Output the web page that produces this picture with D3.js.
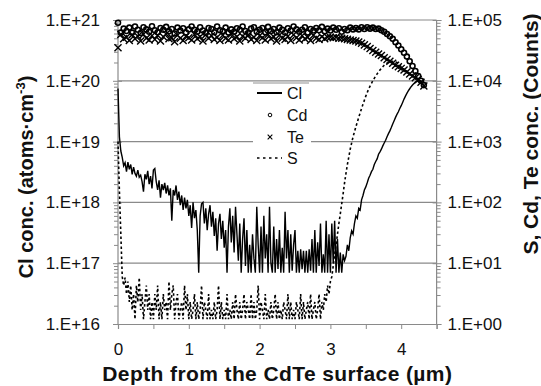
<!DOCTYPE html>
<html><head><meta charset="utf-8">
<script src="https://cdn.jsdelivr.net/npm/d3@7"></script>
<style>body{margin:0;background:#fff;} svg{display:block;}</style>
</head><body>
<svg id="c" width="541" height="386"></svg>
<script>
// ---- data ----
const clStep = 0.02;   // depth spacing of the Cl profile (µm)
const clValues = [
7.5e19,1.2e19,7e18,5.5e18,4e18,4.5e18,3.2e18,4.6e18,3.5e18,4.2e18,
2.9e18,3.8e18,3.0e18,2.7e18,3.4e18,2.6e18,2.8e18,2.2e18,1.5e18,2.9e18,
2.4e18,3.3e18,2.0e18,2.7e18,1.7e18,3.4e18,3.6e18,2.2e18,1.6e18,2.3e18,
1.2e18,2.0e18,1.6e18,2.1e18,1.4e18,1.9e18,1.3e18,1.7e18,5e17,1.6e18,
1.3e18,1.9e18,1.1e18,1.5e18,9e17,1.3e18,7.5e17,1.2e18,8e17,1.1e18,
6e17,9e17,3.8e17,1.0e18,5.5e17,7.5e17,3.5e17,7e16,6e17,9.5e17,
1.0e18,4.5e17,8e17,3.5e17,6.5e17,9e17,4e17,7e17,2.8e17,5.5e17,
1.6e17,4.5e17,6.5e17,2.5e17,5e17,1.8e17,3.5e17,7e16,4e17,8e17,
2.2e17,6e17,1.5e17,8.5e17,3e17,1.1e17,4.5e17,7e16,2.5e17,5.5e17,
9e16,3.5e17,7e16,2e17,7e16,3e17,1.2e17,7e16,8.5e17,2e17,
7e16,4e17,7e16,6e17,1.2e17,3e17,7e16,8.5e17,1e17,7e16,
4e17,7e16,2.5e17,8e16,3.5e17,7e16,1.8e17,7e16,7e17,1.2e17,
3.5e17,7e16,3e17,7.5e16,2e17,3.5e17,7e16,1.6e17,7e16,1.7e17,
8e16,1.6e17,7e16,1.6e17,7e16,1.7e17,7.5e16,2.5e17,7e16,3.5e17,
7e16,2.2e17,9e16,4.5e17,7e16,1.4e17,7e16,5e17,7e16,3e17,
7e16,4.5e17,1e17,5e17,7e16,2.5e17,7e16,1.5e17,7e16,1.4e17,
1.1e17,1.3e17,2.0e17,1.6e17,2.6e17,3.4e17,3.0e17,4.5e17,6e17,5.5e17,
8e17,7.5e17,1.1e18,1.3e18,1.6e18,1.8e18,2.1e18,2.5e18,2.8e18,3.2e18,
3.5e18,4.2e18,4.7e18,5.2e18,6.2e18,6.8e18,7.5e18,8.5e18,9.5e18,1.05e19,
1.2e19,1.35e19,1.5e19,1.7e19,1.95e19,2.2e19,2.5e19,2.8e19,3.1e19,3.5e19,
3.9e19,4.4e19,5.0e19,5.6e19,6.2e19,6.8e19,7.4e19,8.0e19,8.5e19,9.0e19,
9.4e19,9.7e19,1.0e20,1.02e20,1.0e20,9.5e19
];
const sStep = 0.02;
const sValues = [
1000,150,30,6,4.3,5.8,3.1,5,2.3,4.3,
1.7,3.1,1.2,4.3,2.3,5.8,1.7,3.1,1.2,2.3,
4.3,1.7,3.1,1.2,2.3,1.2,3.1,1.7,4.3,1.2,
2.3,1.2,3.1,1.7,2.3,1.2,5,1.7,3.1,4.3,
1.2,2.3,3.1,1.2,1.7,2.3,1.2,4.3,1.7,3.1,
1.2,2.3,1.2,1.7,3.1,1.2,2.3,1.2,1.7,4.3,
1.2,2.3,1.7,1.2,3.1,1.2,1.7,1.2,2.3,1.2,
1.7,4.3,1.2,2.3,1.2,1.7,1.2,3.1,1.2,1.7,
1.2,2.3,1.2,3.1,1.7,1.2,2.3,1.2,1.7,3.1,
1.2,2.3,1.7,1.2,3.1,1.2,2.3,1.2,1.7,4.3,
1.2,2.3,1.7,1.2,3.1,1.2,1.7,1.2,2.3,1.2,
1.7,3.1,1.2,2.3,1.2,1.7,1.2,2.3,1.7,1.2,
3.1,1.2,2.3,1.2,1.7,1.2,2.3,1.7,1.2,3.1,
1.2,2.3,1.2,1.7,2.3,1.2,3.1,1.2,1.7,2.3,
1.2,1.7,3.1,1.2,2.3,1.7,3.1,2.3,4.3,3.1,
5,6,9,14,20,30,45,65,95,140,
210,300,420,560,750,950,1200,1450,1750,2100,
2500,2950,3500,4100,4800,5600,6400,7300,8200,9100,
10000,11000,12000,13000,14000,15000,16000,17000,18000,19000,
19500,20000,20500,21000,21000,21000,20500,20000,19000,18000,
17000,16000,15500,15000,14000,13500,13000,12500,12000,11500,
11000,10500,10200,10000,9500,9000
];
const cdteStep = 0.04;
const cdValues = [
9.0e4,6.2e4,7.2e4,
6.6e4,7.5e4,6.2e4,7.8e4,6.9e4,6.1e4,7.6e4,7.0e4,6.4e4,7.9e4,
6.8e4,6.3e4,7.4e4,6.9e4,7.7e4,6.5e4,7.1e4,6.0e4,7.5e4,6.7e4,
7.3e4,6.2e4,7.0e4,7.8e4,6.9e4,6.4e4,7.6e4,6.7e4,6.1e4,7.4e4,
7.1e4,6.3e4,7.8e4,6.8e4,6.6e4,7.5e4,6.2e4,7.0e4,6.4e4,7.3e4,
6.9e4,7.8e4,6.6e4,6.1e4,7.2e4,7.6e4,6.4e4,6.9e4,7.4e4,6.3e4,
7.7e4,6.6e4,7.1e4,6.3e4,7.5e4,6.9e4,6.2e4,7.3e4,6.7e4,7.8e4,
7.0e4,6.4e4,6.9e4,7.6e4,6.2e4,7.1e4,6.7e4,7.4e4,6.8e4,7.7e4,
6.5e4,7.2e4,6.7e4,7.5e4,6.9e4,7.3e4,6.4e4,7.1e4,6.8e4,7.5e4,
7.0e4,7.4e4,7.0e4,7.6e4,7.1e4,7.6e4,7.2e4,7.5e4,7.1e4,7.2e4,
6.8e4,6.4e4,5.9e4,5.4e4,4.9e4,4.3e4,3.8e4,3.3e4,2.9e4,2.5e4,
2.1e4,1.75e4,1.45e4,1.2e4,1.0e4,8.5e3
];
const teValues = [
3.5e4,5.8e4,4.9e4,
5.2e4,4.6e4,5.7e4,4.9e4,5.4e4,4.5e4,5.8e4,5.0e4,4.7e4,5.5e4,
4.8e4,5.6e4,4.5e4,5.3e4,5.9e4,4.9e4,5.1e4,4.4e4,5.6e4,5.0e4,
4.6e4,5.4e4,5.1e4,4.7e4,5.8e4,4.9e4,5.3e4,4.5e4,5.7e4,5.0e4,
5.5e4,4.8e4,5.2e4,4.6e4,5.6e4,5.0e4,4.7e4,5.9e4,4.9e4,5.3e4,
4.5e4,5.4e4,5.0e4,5.7e4,4.8e4,5.2e4,4.6e4,5.5e4,5.1e4,4.7e4,
5.8e4,4.9e4,5.3e4,4.5e4,5.6e4,5.0e4,4.8e4,5.4e4,4.6e4,5.7e4,
5.1e4,4.7e4,5.5e4,4.9e4,5.2e4,4.6e4,5.6e4,5.0e4,4.8e4,5.3e4,
4.9e4,5.2e4,
5.2e4,5.1e4,5.2e4,5.0e4,5.0e4,4.9e4,4.8e4,4.7e4,4.6e4,4.5e4,
4.35e4,4.15e4,3.9e4,3.65e4,3.4e4,3.15e4,2.95e4,2.75e4,2.6e4,2.4e4,
2.25e4,2.1e4,1.95e4,1.8e4,1.7e4,1.6e4,1.5e4,1.4e4,1.3e4,1.2e4,
1.12e4,1.05e4,9.5e3,8.2e3
];
const xTickValues = [0,0.5,1,1.5,2,2.5,3,3.5,4,4.5];
const xTickLabels = ["0","","1","","2","","3","","4",""];
const leftTicks = [1e16,1e17,1e18,1e19,1e20,1e21];
const leftTickLabels = ["1.E+16","1.E+17","1.E+18","1.E+19","1.E+20","1.E+21"];
const rightTicks = [1,10,100,1000,1e4,1e5];
const rightTickLabels = ["1.E+00","1.E+01","1.E+02","1.E+03","1.E+04","1.E+05"];
const legendNames = ["Cl","Cd","Te","S"];

// ---- layout ----
const svg = d3.select("#c");
const font = "'Liberation Sans', Arial, sans-serif";
const X0 = 118, X1 = 436.6, YB = 324, YT = 20;
const x = d3.scaleLinear().domain([0,4.5]).range([X0,X1]);
const yL = d3.scaleLog().domain([1e16,1e21]).range([YB,YT]);
const yR = d3.scaleLog().domain([1,1e5]).range([YB,YT]);
const gridCol = "#8a8a8a";

// gridlines
svg.append("g").selectAll("line").data(leftTicks.slice(1)).join("line")
  .attr("x1",X0).attr("x2",X1).attr("y1",d=>yL(d)).attr("y2",d=>yL(d))
  .attr("stroke",gridCol).attr("stroke-width",1.2);

// legend box (covers the gridlines)
const lg = svg.append("g");
lg.append("rect").attr("x",253).attr("y",82).attr("width",58).attr("height",88).attr("fill","#fff");
lg.append("line").attr("x1",253).attr("x2",309).attr("y1",83).attr("y2",83).attr("stroke","#c8c8c8").attr("stroke-width",2);

function minors(lo,hi){const m=[];for(let e=lo;e<hi;e++)for(let k=2;k<=9;k++)m.push(k*Math.pow(10,e));return m;}

// left axis
const gl = svg.append("g").attr("transform",`translate(${X0},0)`);
gl.call(d3.axisLeft(yL).tickValues(leftTicks).tickFormat((d,i)=>leftTickLabels[i]).tickSize(5).tickPadding(13));
gl.append("g").call(d3.axisRight(yL).tickValues(leftTicks).tickFormat("").tickSize(4)).select(".domain").remove();
gl.append("g").call(d3.axisLeft(yL).tickValues(minors(16,21)).tickFormat("").tickSize(4)).select(".domain").remove();

// right axis
const gr = svg.append("g").attr("transform",`translate(${X1},0)`);
gr.call(d3.axisRight(yR).tickValues(rightTicks).tickFormat((d,i)=>rightTickLabels[i]).tickSize(5).tickPadding(6));
gr.append("g").call(d3.axisLeft(yR).tickValues(rightTicks).tickFormat("").tickSize(4)).select(".domain").remove();
gr.append("g").call(d3.axisRight(yR).tickValues(minors(0,5)).tickFormat("").tickSize(4)).select(".domain").remove();

// bottom axis
const gb = svg.append("g").attr("transform",`translate(0,${YB})`);
gb.call(d3.axisBottom(x).tickValues(xTickValues).tickFormat((d,i)=>xTickLabels[i]).tickSize(5).tickPadding(14));

[gl,gr,gb].forEach(g=>{
  g.selectAll(".domain").attr("stroke",gridCol).attr("stroke-width",1.2);
  g.selectAll("line").attr("stroke",gridCol);
  g.selectAll("text").attr("font-family",font).attr("font-size",17).attr("fill","#111");
});
gl.selectAll(".domain").attr("d",`M0,${YB}V${YT}`);
gr.selectAll(".domain").attr("d",`M0,${YB}V${YT}`);

// data: S (right axis, dashed)
const sLine = d3.line().x((d,i)=>x(i*sStep)).y(d=>yR(d));
svg.append("path").datum(sValues).attr("d",sLine)
  .attr("fill","none").attr("stroke","#000").attr("stroke-width",1.6).attr("stroke-dasharray","2.5,2.5");

// Cl (left axis, solid)
const clLine = d3.line().x((d,i)=>x(i*clStep)).y(d=>yL(d));
svg.append("path").datum(clValues).attr("d",clLine)
  .attr("fill","none").attr("stroke","#000").attr("stroke-width",1.4);

// Te (× markers)
const teSym = d3.symbol().type(d3.symbolTimes).size(34);
svg.append("g").selectAll("path").data(teValues).join("path")
  .attr("transform",(d,i)=>`translate(${x(i*cdteStep)},${yR(d)})`)
  .attr("d",teSym).attr("fill","none").attr("stroke","#000").attr("stroke-width",1.4);

// Cd (open circles)
svg.append("g").selectAll("circle").data(cdValues).join("circle")
  .attr("cx",(d,i)=>x(i*cdteStep)).attr("cy",d=>yR(d)).attr("r",2.5)
  .attr("fill","none").attr("stroke","#000").attr("stroke-width",1.6);

// legend contents
const ly = [93,115,137,158];
lg.append("line").attr("x1",257).attr("x2",282).attr("y1",ly[0]).attr("y2",ly[0]).attr("stroke","#000").attr("stroke-width",2);
lg.append("circle").attr("cx",270).attr("cy",ly[1]).attr("r",1.8).attr("fill","none").attr("stroke","#000").attr("stroke-width",1);
lg.append("path").attr("transform",`translate(270,${ly[2]})`).attr("d",d3.symbol().type(d3.symbolTimes).size(16)()).attr("fill","none").attr("stroke","#000").attr("stroke-width",1.1);
lg.append("line").attr("x1",257).attr("x2",282).attr("y1",ly[3]).attr("y2",ly[3]).attr("stroke","#000").attr("stroke-width",1.6).attr("stroke-dasharray","2.5,3.5");
lg.selectAll("text.lt").data(legendNames).join("text").attr("class","lt")
  .attr("x",287).attr("y",(d,i)=>ly[i]).attr("dy","0.35em").text(d=>d)
  .attr("font-family",font).attr("font-size",16).attr("fill","#111");

// axis titles
svg.append("text").attr("x",(X0+X1)/2).attr("y",381).attr("text-anchor","middle")
  .attr("font-family",font).attr("font-weight","bold").attr("font-size",21).attr("letter-spacing",0.4).attr("fill","#111")
  .text("Depth from the CdTe surface (µm)");
const lt = svg.append("text").attr("transform","translate(33,177) rotate(-90)").attr("text-anchor","middle")
  .attr("font-family",font).attr("font-weight","bold").attr("font-size",20).attr("fill","#111");
lt.append("tspan").text("Cl conc. (atoms·cm");
lt.append("tspan").attr("font-size",13).attr("dy",-8).text("-3");
lt.append("tspan").attr("dy",8).text(")");
svg.append("text").attr("transform","translate(538,134) rotate(-90)").attr("text-anchor","middle")
  .attr("font-family",font).attr("font-weight","bold").attr("font-size",21).attr("fill","#111")
  .text("S, Cd, Te conc. (Counts)");
</script>
</body></html>
